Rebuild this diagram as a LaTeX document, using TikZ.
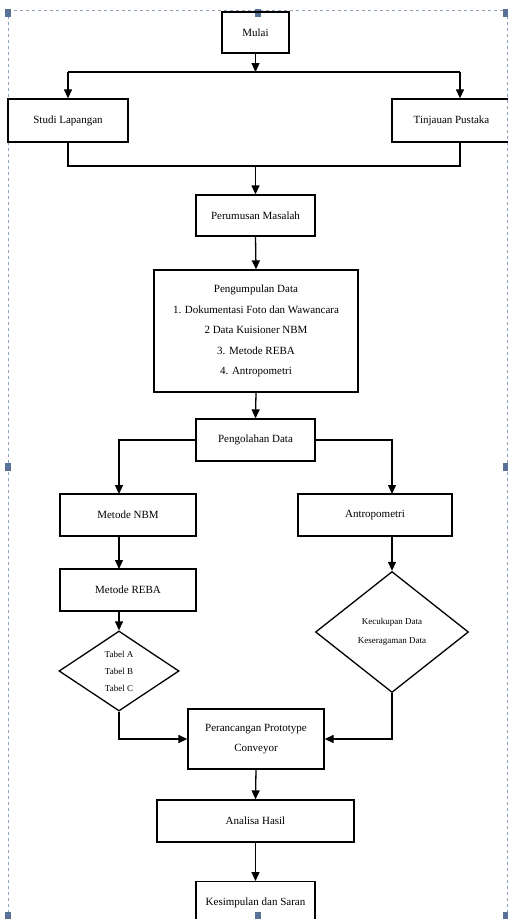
\documentclass[tikz,border=0pt]{standalone}
\usepackage{fontspec}
\setmainfont{Liberation Serif}
\usetikzlibrary{arrows.meta,shapes.geometric}
\definecolor{framec}{HTML}{8FA3BF}
\definecolor{handlec}{HTML}{5A7295}
\tikzset{
  box/.style={draw, line width=1.3pt, minimum height=42pt, align=center, inner sep=2pt, font=\fontsize{11}{13}\selectfont},
  dia/.style={draw, line width=1.3pt, diamond, aspect=1, inner sep=0pt, align=center},
  conn/.style={line width=1.3pt},
  arr/.style={line width=1.3pt, -{Triangle[length=9pt,width=8pt]}},
  handle/.style={fill=handlec, draw=none},
}
\begin{document}
\begin{tikzpicture}[x=1pt,y=-1pt]
\useasboundingbox (0,0) rectangle (508,919);
% selection frame
\draw[framec, dashed, line width=0.6pt] (8,10) -- (507,10);
\draw[framec, dashed, line width=0.6pt] (8,10) -- (8,917);
\draw[framec, dashed, line width=0.6pt] (507,10) -- (507,917);
\foreach \hx/\hy in {8/13, 258/13, 506/13, 8/467, 506/467, 8/916, 258/916, 506/916}
  \fill[handle] (\hx-3,\hy-4) rectangle (\hx+3,\hy+4);

% nodes
\node[box, minimum width=67pt, minimum height=41pt] (mulai) at (255.5,32.5) {Mulai};
\node[box, minimum width=120pt, minimum height=43pt] (studi) at (68,120.5) {Studi Lapangan};
\node[box, minimum width=136pt, minimum height=43pt] (tinjau) at (460,120.5) {\hspace*{-17pt}Tinjauan Pustaka};
\node[box, minimum width=119pt, minimum height=41pt] (rumus) at (255.5,215.5) {Perumusan Masalah};
\node[box, minimum width=204pt, minimum height=122pt, font=\fontsize{11}{20.5}\selectfont] (kumpul) at (256,331)
  {Pengumpulan Data\\1. Dokumentasi Foto dan Wawancara\\2 Data Kuisioner NBM\\3. Metode REBA\\4. Antropometri};
\node[box, minimum width=119pt, minimum height=42pt] (olah) at (255.5,440) {Pengolahan Data};
\node[box, minimum width=136pt, minimum height=42pt] (nbm) at (128,515) {Metode NBM};
\node[box, minimum width=154pt, minimum height=42pt] (antro) at (375,515) {Antropometri};
\node[box, minimum width=136pt, minimum height=42pt] (reba) at (128,590) {Metode REBA};
\node[dia, minimum width=120pt, minimum height=80pt, font=\fontsize{9}{17}\selectfont] (tabel) at (119,671)
  {Tabel A\\Tabel B\\Tabel C};
\node[dia, minimum width=153pt, minimum height=121pt, font=\fontsize{9}{19}\selectfont] (cukup) at (392,632)
  {Kecukupan Data\\Keseragaman Data};
\node[box, minimum width=136pt, minimum height=60pt, font=\fontsize{11}{20}\selectfont] (rancang) at (256,739)
  {Perancangan Prototype\\Conveyor};
\node[box, minimum width=197pt, minimum height=42pt] (analisa) at (255.5,821) {Analisa Hasil};
\node[box, minimum width=119pt, minimum height=42pt, anchor=north] (simpul) at (255.5,881) {Kesimpulan dan Saran};

% junction coordinates
\coordinate (j1) at (255.5,72);
\coordinate (j2) at (255.5,166);

% connectors
\draw[arr] (mulai.south) -- (j1);
\draw[conn] (68,72) -- (460,72);
\draw[arr] (68,72) -- (studi.north);
\draw[arr] (460,72) -- (tinjau.north -| 460,0);
\draw[conn] (studi.south) |- (j2);
\draw[conn] (460,142) |- (j2);
\draw[arr] (j2) -- (rumus.north);
\draw[arr] (rumus.south) -- (kumpul.north);
\draw[arr] (kumpul.south) -- (olah.north);
\draw[arr] (olah.west) -| (119,494);
\draw[arr] (olah.east) -| (392,494);
\draw[arr] (119,536) -- (119,569);
\draw[arr] (119,611) -- (tabel.north);
\draw[arr] (392,536) -- (cukup.north);
\draw[arr] (tabel.south) |- (rancang.west);
\draw[arr] (cukup.south) |- (rancang.east);
\draw[arr] (rancang.south) -- (analisa.north);
\draw[arr] (analisa.south) -- (simpul.north);
\end{tikzpicture}
\end{document}
